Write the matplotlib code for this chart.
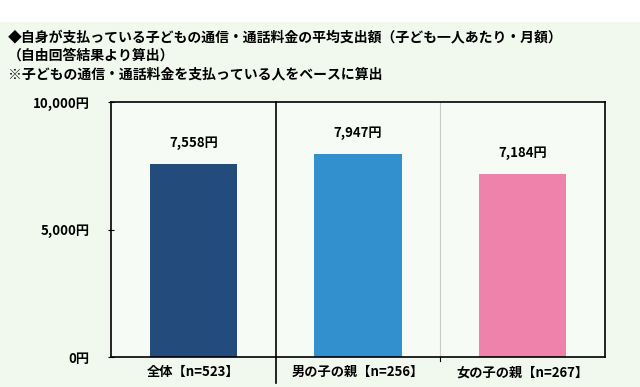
import matplotlib.pyplot as plt
from matplotlib.patches import Rectangle

plt.rcParams['font.family'] = ['Noto Sans CJK JP', 'DejaVu Sans']

categories = ['全体【n=523】', '男の子の親【n=256】', '女の子の親【n=267】']
values = [7558, 7947, 7184]
value_labels = ['7,558円', '7,947円', '7,184円']
colors = ['#234b7b', '#3390cf', '#ee82ab']
yticks = [0, 5000, 10000]
ytick_labels = ['0円', '5,000円', '10,000円']
title_lines = ['◆自身が支払っている子どもの通信・通話料金の平均支出額（子ども一人あたり・月額）',
               '（自由回答結果より算出）',
               '※子どもの通信・通話料金を支払っている人をベースに算出']

W, H = 640, 387
fig = plt.figure(figsize=(W / 100, H / 100), dpi=100)
fig.patch.set_facecolor('#f1f8ee')
# white strip at the top
fig.patches.append(Rectangle((0, 1 - 22 / H), 1, 22 / H, transform=fig.transFigure,
                             facecolor='white', edgecolor='none', zorder=0))

ax = fig.add_axes([111 / W, 1 - 357 / H, (605 - 111) / W, (357 - 102) / H])
ax.set_facecolor('#f7fbf5')
x = range(len(values))
ax.bar(x, values, width=0.53, color=colors, zorder=2)
for i, v in enumerate(values):
    ax.text(i, v + 550, value_labels[i], ha='center', va='bottom',
            fontsize=9.5, fontweight='bold')

ax.set_xlim(-0.5, 2.5)
ax.set_ylim(0, 10000)
ax.set_yticks(yticks)
ax.set_yticklabels(ytick_labels, fontsize=9.5, fontweight='bold')
ax.tick_params(axis='y', direction='inout', length=5, width=0.8, pad=13)
ax.set_xticks([])
for s in ax.spines.values():
    s.set_color('black')
    s.set_linewidth(1.2)

# category dividers
ax.axvline(1.5, color='#c8c8c8', lw=0.8, zorder=1)
ax.plot([1.5, 1.5], [0, -150], color='black', lw=0.8, clip_on=False)
ax.plot([0.5, 0.5], [10000, -1000], color='black', lw=1.2, clip_on=False, zorder=3)

for i, c in enumerate(categories):
    ax.text(i, -600, c, ha='center', va='center', fontsize=9.5, fontweight='bold')

for k, line in enumerate(title_lines):
    fig.text(8 / W, 1 - (37 + 18.5 * k) / H, line, ha='left', va='center',
             fontsize=10, fontweight='bold')

fig.savefig('out.png', dpi=100, facecolor=fig.get_facecolor())
